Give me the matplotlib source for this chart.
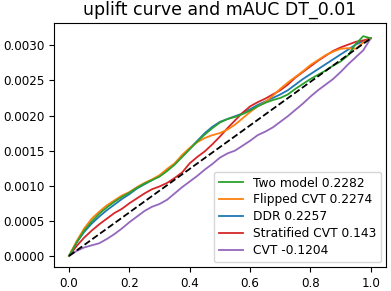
import matplotlib
matplotlib.use("Agg")
import matplotlib.pyplot as plt
import numpy as np

x = [0.000, 0.025, 0.050, 0.075, 0.100, 0.125, 0.150, 0.175, 0.200, 0.225,
     0.250, 0.275, 0.300, 0.325, 0.350, 0.375, 0.400, 0.425, 0.450, 0.475,
     0.500, 0.525, 0.550, 0.575, 0.600, 0.625, 0.650, 0.675, 0.700, 0.725,
     0.750, 0.775, 0.800, 0.825, 0.850, 0.875, 0.900, 0.925, 0.950, 0.975, 1.000]

two_model = [0, 0.00019, 0.00036, 0.00049, 0.00060, 0.00069, 0.00077, 0.00084, 0.00090, 0.00097,
             0.00103, 0.00108, 0.00113, 0.00121, 0.00130, 0.00141, 0.00152, 0.00163, 0.00173, 0.00182,
             0.00190, 0.00195, 0.00198, 0.00202, 0.00207, 0.00213, 0.00218, 0.00222, 0.00225, 0.00230,
             0.00238, 0.00245, 0.00252, 0.00258, 0.00264, 0.00271, 0.00277, 0.00286, 0.00302, 0.00313,
             0.00310]
flipped_cvt = [0, 0.00021, 0.00039, 0.00053, 0.00063, 0.00072, 0.00079, 0.00086, 0.00091, 0.00098,
               0.00104, 0.00109, 0.00115, 0.00124, 0.00132, 0.00144, 0.00154, 0.00162, 0.00168, 0.00172,
               0.00175, 0.00180, 0.00187, 0.00196, 0.00205, 0.00213, 0.00219, 0.00228, 0.00238, 0.00247,
               0.00255, 0.00263, 0.00272, 0.00279, 0.00286, 0.00291, 0.00295, 0.00296, 0.00295, 0.00304,
               0.00310]
ddr = [0, 0.00019, 0.00034, 0.00046, 0.00056, 0.00065, 0.00073, 0.00081, 0.00088, 0.00096,
       0.00102, 0.00108, 0.00114, 0.00122, 0.00131, 0.00142, 0.00153, 0.00164, 0.00175, 0.00184,
       0.00191, 0.00195, 0.00199, 0.00203, 0.00209, 0.00215, 0.00220, 0.00225, 0.00230, 0.00236,
       0.00244, 0.00252, 0.00259, 0.00266, 0.00273, 0.00280, 0.00287, 0.00294, 0.00301, 0.00306,
       0.00310]
stratified_cvt = [0, 0.00014, 0.00026, 0.00036, 0.00045, 0.00053, 0.00061, 0.00067, 0.00075, 0.00082,
                  0.00089, 0.00095, 0.00099, 0.00104, 0.00111, 0.00119, 0.00132, 0.00141, 0.00149, 0.00159,
                  0.00170, 0.00182, 0.00193, 0.00204, 0.00213, 0.00219, 0.00224, 0.00230, 0.00236, 0.00244,
                  0.00254, 0.00262, 0.00270, 0.00278, 0.00285, 0.00292, 0.00297, 0.00301, 0.00305, 0.00307,
                  0.00310]
cvt = [0, 0.00007, 0.00012, 0.00015, 0.00018, 0.00024, 0.00031, 0.00039, 0.00048, 0.00056,
       0.00064, 0.00070, 0.00074, 0.00080, 0.00089, 0.00098, 0.00106, 0.00114, 0.00123, 0.00131,
       0.00140, 0.00146, 0.00150, 0.00157, 0.00164, 0.00172, 0.00177, 0.00183, 0.00191, 0.00199,
       0.00208, 0.00217, 0.00227, 0.00236, 0.00244, 0.00252, 0.00262, 0.00273, 0.00283, 0.00293,
       0.00310]

labels = ["Two model 0.2282", "Flipped CVT 0.2274", "DDR 0.2257",
          "Stratified CVT 0.143", "CVT -0.1204"]
colors = ["#2ca02c", "#ff7f0e", "#1f77b4", "#d62728", "#9467bd"]
series = [two_model, flipped_cvt, ddr, stratified_cvt, cvt]
# drawing order (blue under green/orange)
order = [2, 3, 4, 1, 0]
random_x = [0, 1]
random_y = [0, 0.00310]

fig = plt.figure(figsize=(3.91, 2.91), dpi=100)
ax = fig.add_axes([0.138, 0.0825, 0.849, 0.8385])

handles = {}
for i in order:
    h, = ax.plot(x, series[i], color=colors[i], lw=1.3, label=labels[i])
    handles[i] = h
ax.plot(random_x, random_y, "k--", lw=1.3)

ax.set_title("uplift curve and mAUC DT_0.01", fontsize=12.5)
ax.tick_params(labelsize=8.6)
ax.set_xticks([0.0, 0.2, 0.4, 0.6, 0.8, 1.0])
ax.set_yticks([0.0, 0.0005, 0.0010, 0.0015, 0.0020, 0.0025, 0.0030])
ax.set_xlim(-0.05, 1.05)
ax.set_ylim(-0.000158, 0.003318)
ax.legend([handles[i] for i in range(5)], labels, loc="lower right",
          fontsize=8.8, labelspacing=0.32, borderaxespad=0.4)

fig.savefig("out.png", dpi=100)
